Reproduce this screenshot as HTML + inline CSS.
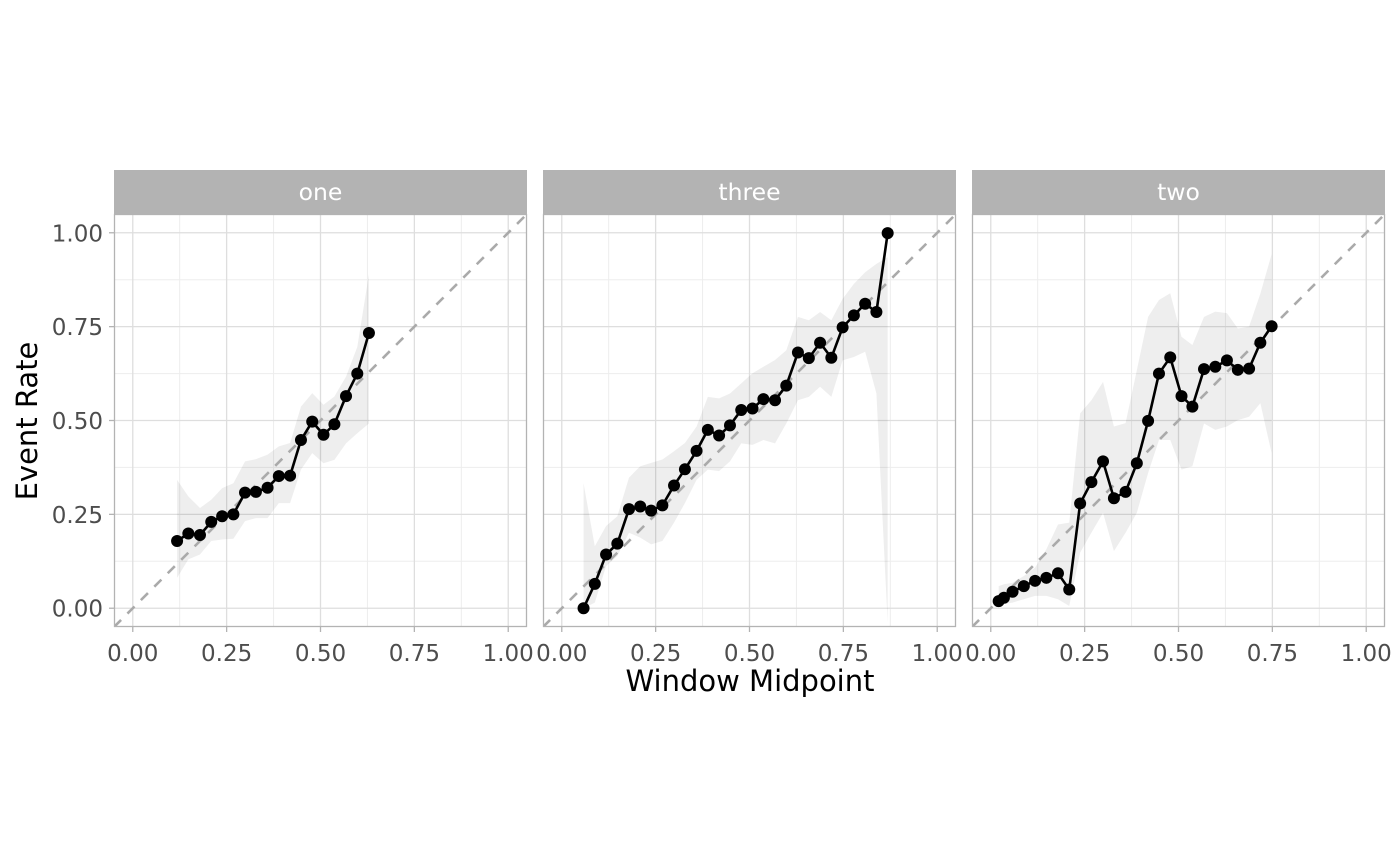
<!DOCTYPE html>
<html><head><meta charset="utf-8"><style>
html,body{margin:0;padding:0;background:#fff;}
svg{display:block;font-family:"DejaVu Sans","Liberation Sans",sans-serif;}
</style></head><body>
<svg id="chart" width="1400" height="866" xmlns="http://www.w3.org/2000/svg"></svg>
<script>
const panelNames = ["one","three","two"];
const xTicks = [0,0.25,0.5,0.75,1];
const xTickLabels = ["0.00","0.25","0.50","0.75","1.00"];
const yTicks = [0,0.25,0.5,0.75,1];
const yTickLabels = ["0.00","0.25","0.50","0.75","1.00"];

const oneX = [0.118,0.148,0.179,0.209,0.238,0.268,0.299,0.328,0.359,0.389,0.419,0.448,0.478,0.508,0.537,0.568,0.598,0.629];
const oneY = [0.179,0.199,0.195,0.230,0.245,0.250,0.308,0.310,0.321,0.352,0.353,0.448,0.497,0.462,0.490,0.565,0.625,0.733];
const oneUpper = [0.342,0.298,0.267,0.289,0.320,0.333,0.391,0.397,0.409,0.431,0.440,0.537,0.573,0.542,0.564,0.617,0.696,0.890];
const oneLower = [0.081,0.130,0.143,0.179,0.183,0.185,0.232,0.240,0.240,0.280,0.280,0.369,0.413,0.386,0.395,0.439,0.466,0.492];

const threeX = [0.058,0.088,0.118,0.148,0.179,0.209,0.238,0.268,0.299,0.328,0.359,0.389,0.419,0.448,0.478,0.508,0.537,0.568,0.598,0.629,0.658,0.688,0.718,0.748,0.778,0.808,0.838,0.868];
const threeY = [0,0.065,0.143,0.172,0.264,0.271,0.260,0.274,0.327,0.370,0.419,0.475,0.460,0.487,0.528,0.532,0.557,0.554,0.593,0.681,0.666,0.707,0.667,0.748,0.780,0.811,0.789,0.999];
const threeUpper = [0.333,0.165,0.219,0.245,0.348,0.378,0.387,0.396,0.418,0.440,0.484,0.563,0.559,0.572,0.599,0.626,0.643,0.661,0.687,0.776,0.767,0.789,0.767,0.824,0.864,0.895,0.917,0.935];
const threeLower = [0,0.015,0.112,0.139,0.201,0.188,0.170,0.179,0.228,0.280,0.342,0.369,0.365,0.391,0.439,0.435,0.448,0.439,0.492,0.554,0.563,0.590,0.563,0.660,0.669,0.683,0.572,-0.04];

const twoX = [0.021,0.035,0.058,0.088,0.118,0.148,0.179,0.209,0.238,0.268,0.299,0.328,0.359,0.389,0.419,0.448,0.478,0.508,0.537,0.568,0.598,0.629,0.658,0.688,0.718,0.748];
const twoY = [0.019,0.028,0.044,0.059,0.073,0.081,0.093,0.050,0.279,0.336,0.391,0.293,0.310,0.386,0.499,0.625,0.668,0.565,0.537,0.637,0.643,0.660,0.635,0.638,0.707,0.751];
const twoUpper = [0.059,0.064,0.068,0.086,0.108,0.157,0.223,0.228,0.519,0.554,0.603,0.484,0.493,0.634,0.776,0.821,0.839,0.723,0.701,0.776,0.790,0.786,0.745,0.750,0.838,0.943];
const twoLower = [0.006,0.011,0.015,0.024,0.033,0.033,0.024,0.006,0.148,0.201,0.254,0.152,0.201,0.254,0.360,0.448,0.448,0.369,0.378,0.492,0.475,0.484,0.501,0.510,0.546,0.413];

const series = [
 {x:oneX,y:oneY,u:oneUpper,l:oneLower},
 {x:threeX,y:threeY,u:threeUpper,l:threeLower},
 {x:twoX,y:twoY,u:twoUpper,l:twoLower}
];

const NS="http://www.w3.org/2000/svg";
const svg=document.getElementById('chart');
function mk(tag,attrs,parent){const e=document.createElementNS(NS,tag);for(const k in attrs)e.setAttribute(k,attrs[k]);(parent||svg).appendChild(e);return e;}

const panelLefts=[114,543,972];
const PW=413, PT=214, PH=413;
const sx=(left,v)=>left+(v+0.05)/1.1*PW;
const sy=v=>PT+PH-(v+0.05)/1.1*PH;

panelLefts.forEach((left,pi)=>{
  const g=mk('g',{});
  
  
  const clipId='clip'+pi;
  const cp=mk('clipPath',{id:clipId},g);
  mk('rect',{x:left,y:PT,width:PW,height:PH},cp);
  [0.125,0.375,0.625,0.875].forEach(v=>{
    mk('line',{x1:sx(left,v),x2:sx(left,v),y1:PT,y2:PT+PH,stroke:'#ededed','stroke-width':1},g);
    mk('line',{x1:left,x2:left+PW,y1:sy(v),y2:sy(v),stroke:'#ededed','stroke-width':1},g);
  });
  xTicks.forEach(v=>{const l=mk('line',{x1:sx(left,v),x2:sx(left,v),y1:PT,y2:PT+PH,stroke:'#dedede','stroke-width':1.3},g);
    });
  yTicks.forEach(v=>{const l=mk('line',{x1:left,x2:left+PW,y1:sy(v),y2:sy(v),stroke:'#dedede','stroke-width':1.3},g);
    });
  const s=series[pi];
  const cg=mk('g',{'clip-path':'url(#'+clipId+')'},g);
  let d='';
  s.x.forEach((x,i)=>{d+=(i?'L':'M')+sx(left,x)+','+sy(s.u[i]);});
  for(let i=s.x.length-1;i>=0;i--)d+='L'+sx(left,s.x[i])+','+sy(s.l[i]);
  const rib=mk('path',{d:d+'Z',fill:'#000','fill-opacity':0.065},cg);
  
  
  const diag=mk('line',{x1:sx(left,-0.05),y1:sy(-0.05),x2:sx(left,1.05),y2:sy(1.05),stroke:'#aaaaaa','stroke-width':2.6,'stroke-dasharray':'10,9'},cg);
  
  
  const pts=s.x.map((x,i)=>sx(left,x)+','+sy(s.y[i])).join(' ');
  const ln=mk('polyline',{points:pts,fill:'none',stroke:'#000','stroke-width':2.6},cg);
  
  
  s.x.forEach((x,i)=>{const c=mk('circle',{cx:sx(left,x),cy:sy(s.y[i]),r:6,fill:'#000'},cg);
    });
  mk('rect',{x:left+0.5,y:PT+0.5,width:PW-1,height:PH-1,fill:'none',stroke:'#b3b3b3','stroke-width':1.3},g);
  const st=mk('rect',{x:left,y:170,width:PW,height:44,fill:'#b3b3b3'},g);
  
  
  const stt=mk('text',{x:left+PW/2,y:200,'text-anchor':'middle','font-size':23.5,fill:'#fff'},g);
  stt.textContent=panelNames[pi];
  
  
  xTicks.forEach((v,i)=>{
    mk('line',{x1:sx(left,v),x2:sx(left,v),y1:PT+PH,y2:PT+PH+5,stroke:'#b3b3b3','stroke-width':1.3},g);
    const t=mk('text',{x:sx(left,v),y:661,'text-anchor':'middle','font-size':23,fill:'#4d4d4d'},g);
    t.textContent=xTickLabels[i];
    
    
  });
  if(pi===0){
    yTicks.forEach((v,i)=>{
      mk('line',{x1:left-5,x2:left,y1:sy(v),y2:sy(v),stroke:'#b3b3b3','stroke-width':1.3},g);
      const t=mk('text',{x:103,y:sy(v)+8.5,'text-anchor':'end','font-size':23,fill:'#4d4d4d'},g);
      t.textContent=yTickLabels[i];
      
      
    });
  }
});
const xt=mk('text',{x:750,y:691,'text-anchor':'middle','font-size':29,fill:'#000'});
xt.textContent='Window Midpoint';


const yt=mk('text',{x:0,y:0,'text-anchor':'middle','font-size':29,fill:'#000',transform:'translate(37,421) rotate(-90)'});
yt.textContent='Event Rate';


</script>
</body></html>
